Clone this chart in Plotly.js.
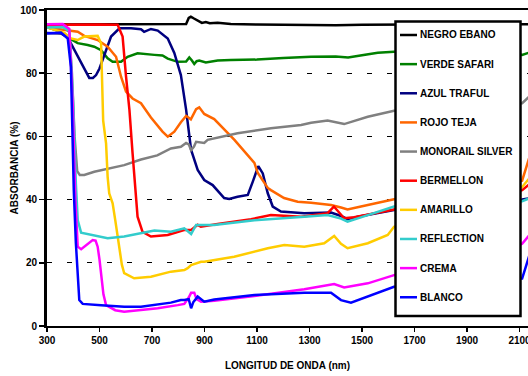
<!DOCTYPE html>
<html>
<head>
<meta charset="utf-8">
<script src="https://cdn.plot.ly/plotly-3.0.1.min.js"></script>
<style>html,body{margin:0;padding:0;background:#fff;}#chart{width:528px;height:376px;}</style>
</head>
<body>
<div id="chart"></div>
<script>
// ---- data (wavelength nm, absorbance %) ----
const seriesNames = ["NEGRO EBANO","VERDE SAFARI","AZUL TRAFUL","ROJO TEJA","MONORAIL SILVER","BERMELLON","AMARILLO","REFLECTION","CREMA","BLANCO"];
const seriesColors = ["#000000","#008000","#000080","#FF6600","#808080","#FF0000","#FFCC00","#33CCCC","#FF00FF","#0000FF"];

const negroX = [300,400,500,600,700,800,830,840,848,860,875,890,905,920,950,1000,1100,1200,1300,1400,1500,1600,1700,1900,2100,2140];
const negroY = [95.4,95.4,95.4,95.4,95.4,95.4,95.6,97.5,97.9,97.3,96.5,95.9,96.2,95.8,96.0,95.6,95.4,95.3,95.4,95.2,95.3,95.4,95.4,95.4,95.4,95.5];

const verdeX = [300,340,391,417,455,480,506,531,550,582,607,645,709,740,760,798,830,842,852,861,870,880,905,950,1000,1100,1200,1306,1400,1447,1500,1560,1622,1800,2000,2110,2140];
const verdeY = [94.6,93.5,90.8,89.5,88.9,88.4,87.3,84.7,83.6,83.6,85.2,86.3,85.8,85.6,84.6,83.6,83.7,85.0,84.0,82.9,83.8,84.0,83.4,84.0,84.2,84.3,84.8,85.2,85.3,85.0,85.7,86.5,86.8,86.9,86.5,85.8,86.6];

const azulX = [300,353,379,398,430,450,461,475,487,500,519,544,576,620,658,670,696,722,760,785,810,830,849,874,899,931,975,994,1026,1065,1084,1105,1122,1141,1160,1191,1280,1382,1420,1445,1484,1622,1800,2000,2110,2140];
const azulY = [92.7,92.6,91.3,88.3,83.4,80.5,78.5,78.5,79.4,81.5,85.8,91.6,94.2,94.2,93.9,93.1,94.0,93.5,91.0,86.4,79.4,68.4,55.7,49.4,46.2,44.6,40.5,40.2,40.9,41.5,45.7,50.6,48.3,42.0,37.8,36.2,35.7,35.9,34.8,33.8,34.6,36.7,38,39,40,40.5];

const rojoX = [300,353,417,442,493,531,563,582,601,626,658,696,740,760,785,810,830,848,868,880,899,937,1014,1090,1103,1141,1153,1203,1255,1306,1382,1420,1445,1496,1622,1800,2000,2110,2140];
const rojoY = [94.5,93.9,93.1,91.8,90.5,88.4,85.2,78.9,74.2,72.0,70.5,66.0,61.5,59.9,61.5,64.5,66.5,65.4,68.6,69.2,67.1,65.5,58.9,51.6,48.4,43.7,43.0,40.5,39.3,39.0,38.3,37.5,36.9,37.8,40.1,42,44,46,54];

const silverX = [300,360,385,395,405,415,425,442,480,540,594,658,720,772,810,830,840,849,860,868,899,912,1026,1153,1268,1306,1369,1432,1522,1622,1800,2000,2110,2140];
const silverY = [95.0,94.8,93.0,80,60,49,47.8,47.8,48.8,50.0,50.9,52.7,54.0,56.2,56.7,57.9,57.5,55.7,56.8,58.3,57.9,58.9,61.0,62.6,63.6,64.3,65.0,63.9,66.2,68.1,69,70,70.5,72.8];

const bermX = [300,400,500,569,588,601,614,626,636,645,664,696,760,822,849,874,886,950,1077,1153,1268,1369,1393,1432,1470,1622,1800,2000,2110,2140];
const bermY = [95.3,95.4,95.4,95.3,91.6,79.0,68.4,54.6,44.0,34.6,29.8,28.3,28.8,30.4,30.4,32.0,31.4,32.3,33.8,35.1,34.6,35.7,37.8,34.1,34.4,36.9,38,40,43,45];

const amarilloX = [300,366,391,417,442,493,506,510,514,525,531,537,550,560,575,585,594,632,696,772,823,836,849,887,899,1013,1141,1204,1280,1356,1394,1420,1445,1522,1598,1622,1800,2000,2110,2140];
const amarilloY = [94.5,92.8,91.0,90.5,91.6,91.8,89.5,80.0,65.0,57.8,47.2,42.0,38.8,33.5,25.1,19.5,16.7,15.1,15.6,17.2,17.7,18.3,19.3,20.3,20.3,21.9,24.6,25.6,25.1,26.2,28.5,26.0,24.6,26.2,28.8,31.4,36,40,44,47];

const reflX = [300,360,385,400,410,417,430,468,531,594,658,709,772,823,849,860,868,937,1090,1280,1369,1420,1445,1522,1622,1800,2000,2110,2140];
const reflY = [94.5,94.6,93.5,70,45,33.5,29.5,28.8,27.8,28.3,29.3,30.2,29.8,30.9,29.1,31.0,32.0,32.0,33.5,34.6,35.1,34.0,33.0,35.1,37.8,38.5,39,39.5,40.5];

const cremaX = [300,360,385,398,408,417,430,450,474,485,493,500,506,515,525,560,594,658,722,798,823,840,849,861,870,887,937,1090,1280,1394,1432,1522,1622,1800,2000,2110,2140];
const cremaY = [95.5,95.6,94.0,70,40,25.1,24.3,25.5,27.2,27.0,25.1,21.0,15.6,10.0,6.6,5.0,4.5,5.1,5.6,6.6,7.0,9.0,10.5,10.5,8.5,7.7,8.0,9.5,11.6,13.3,12.2,13.5,16.1,19,22,26,29];

const blancoX = [300,353,379,391,402,410,423,436,506,594,658,772,810,823,840,849,857,874,899,937,1090,1280,1382,1420,1458,1522,1622,1800,2000,2110,2140];
const blancoY = [92.6,92.9,91.0,82.0,43.0,26.2,8.2,7.0,6.6,6.1,6.1,7.4,8.2,8.2,8.5,5.6,7.5,9.3,7.7,8.4,9.8,10.5,10.5,8.2,7.4,9.3,12.4,14,15,15,23];

const seriesX = [negroX,verdeX,azulX,rojoX,silverX,bermX,amarilloX,reflX,cremaX,blancoX];
const seriesY = [negroY,verdeY,azulY,rojoY,silverY,bermY,amarilloY,reflY,cremaY,blancoY];

const xTicks = [300,500,700,900,1100,1300,1500,1700,1900,2100];
const yTicks = [0,20,40,60,80,100];

// ---- build ----
const FONT = "Liberation Sans, Arial, sans-serif";
const traces = seriesNames.map((name, i) => ({
  type: "scatter", mode: "lines", name: name,
  x: seriesX[i], y: seriesY[i],
  line: {color: seriesColors[i], width: 2.5},
  showlegend: false, hoverinfo: "skip"
}));

const W = 528, H = 376, mL = 47, mR = 0, mT = 10, mB = 50;
const pw = W - mL - mR, ph = H - mT - mB;
const px2paperX = px => (px - mL) / pw;
const py2paperY = py => (H - mB - py) / ph;

const shapes = [{
  type: "rect", xref: "paper", yref: "paper", layer: "above",
  x0: px2paperX(395.5), x1: px2paperX(520.5), y0: py2paperY(316), y1: py2paperY(21.5),
  fillcolor: "#ffffff", line: {color: "#000000", width: 2.5}
}];
const annotations = [];
seriesNames.forEach((name, i) => {
  const yc = 35 + i * 29.14;
  shapes.push({type: "line", xref: "paper", yref: "paper", layer: "above",
    x0: px2paperX(400), x1: px2paperX(417), y0: py2paperY(yc), y1: py2paperY(yc),
    line: {color: seriesColors[i], width: 2.5}});
  annotations.push({xref: "paper", yref: "paper", x: px2paperX(418), y: py2paperY(yc),
    xanchor: "left", yanchor: "middle", showarrow: false, text: name,
    font: {family: FONT, size: 10, color: "#000", weight: "bold"}});
});

const layout = {
  width: W, height: H,
  margin: {l: mL, r: mR, t: mT, b: mB, pad: 0},
  paper_bgcolor: "#fff", plot_bgcolor: "#fff",
  showlegend: false,
  xaxis: {
    range: [300, 300 + pw / 0.2625], tickvals: xTicks, ticktext: xTicks.map(String),
    showgrid: false, zeroline: false,
    showline: true, linecolor: "#000", linewidth: 2, mirror: true,
    ticks: "outside", ticklen: 4, tickwidth: 1.5, tickcolor: "#000",
    ticklabeloverflow: "allow",
    tickfont: {family: FONT, size: 10, color: "#000", weight: "bold"},
    title: {text: "LONGITUD DE ONDA (nm)", font: {family: FONT, size: 10, color: "#000", weight: "bold"}, standoff: 17},
    automargin: false, fixedrange: true
  },
  yaxis: {
    range: [0, 100], tickvals: yTicks, ticktext: yTicks.map(String),
    showgrid: true, gridcolor: "#000", gridwidth: 1, griddash: "5px,15px",
    zeroline: false,
    showline: true, linecolor: "#000", linewidth: 3, mirror: false,
    ticks: "outside", ticklen: 5, tickwidth: 1.5, tickcolor: "#000",
    tickfont: {family: FONT, size: 10, color: "#000", weight: "bold"},
    title: {text: "ABSORBANCIA (%)", font: {family: FONT, size: 10, color: "#000", weight: "bold"}, standoff: 0},
    automargin: false, fixedrange: true
  },
  shapes: shapes,
  annotations: annotations
};

Plotly.newPlot("chart", traces, layout, {displayModeBar: false, staticPlot: true});
</script>
</body>
</html>
